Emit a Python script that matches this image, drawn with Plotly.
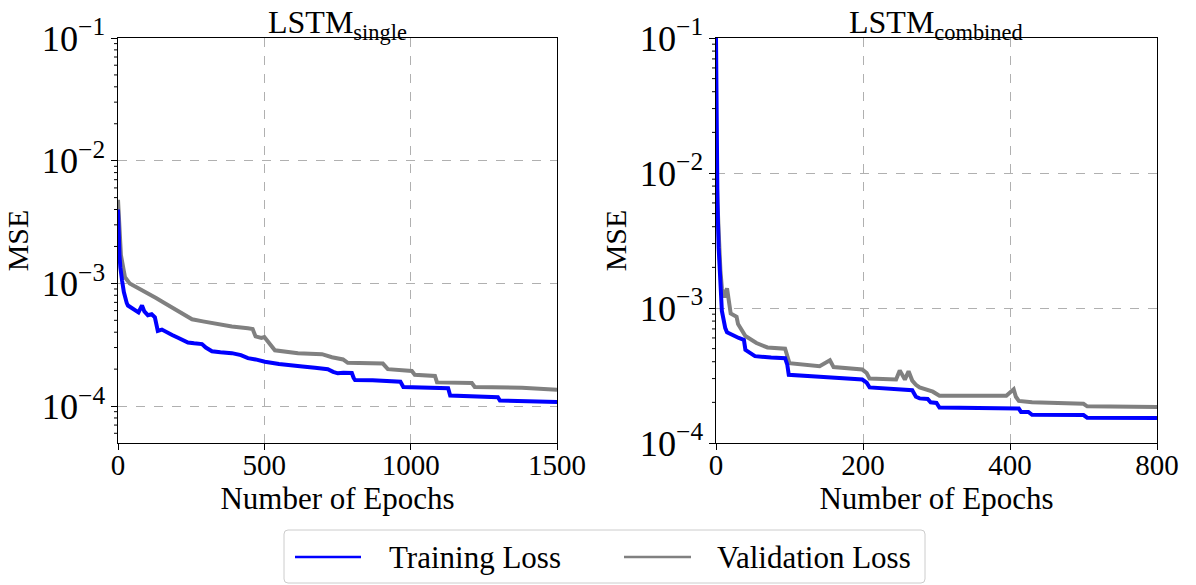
import math
import plotly.graph_objects as go

# ---- LSTM single: training / validation MSE per epoch ----
single_train_epochs = [0, 1, 3, 5, 8, 10, 14, 20, 24, 30, 34, 45, 58, 70, 82, 90, 102, 115, 126,
                       132, 136, 150, 171, 185, 205, 220, 239, 260, 287, 300, 321, 350, 389, 420,
                       444, 470, 502, 550, 594, 630, 673, 700, 717, 735, 751, 770, 799, 805, 810,
                       870, 930, 965, 975, 1050, 1128, 1135, 1200, 1298, 1305, 1400, 1500]
single_train_mse = [4.0e-3, 3.0e-3, 2.0e-3, 1.7e-3, 1.35e-3, 1.2e-3, 1.05e-3, 8.5e-4, 7.6e-4,
                    6.9e-4, 6.6e-4, 6.3e-4, 6.0e-4, 5.8e-4, 6.6e-4, 5.9e-4, 5.5e-4, 5.6e-4, 5.3e-4,
                    4.6e-4, 4.1e-4, 4.2e-4, 4.0e-4, 3.8e-4, 3.6e-4, 3.45e-4, 3.3e-4, 3.25e-4,
                    3.2e-4, 3.0e-4, 2.8e-4, 2.75e-4, 2.7e-4, 2.6e-4, 2.46e-4, 2.4e-4, 2.3e-4,
                    2.2e-4, 2.13e-4, 2.1e-4, 2.05e-4, 2.02e-4, 2.0e-4, 1.9e-4, 1.85e-4, 1.87e-4,
                    1.86e-4, 1.7e-4, 1.63e-4, 1.62e-4, 1.6e-4, 1.58e-4, 1.43e-4, 1.42e-4, 1.40e-4,
                    1.22e-4, 1.2e-4, 1.18e-4, 1.11e-4, 1.1e-4, 1.08e-4]

single_val_epochs = [0, 2, 5, 10, 20, 24, 40, 58, 80, 102, 130, 160, 190, 218, 240, 253, 290,
                     331, 389, 444, 460, 470, 490, 500, 520, 536, 615, 697, 731, 769, 785, 905,
                     922, 1004, 1014, 1083, 1090, 1209, 1219, 1380, 1500]
single_val_mse = [4.8e-3, 3.5e-3, 2.7e-3, 1.7e-3, 1.26e-3, 1.12e-3, 1.0e-3, 9.5e-4, 8.9e-4,
                  8.4e-4, 7.6e-4, 6.9e-4, 6.3e-4, 5.75e-4, 5.4e-4, 5.1e-4, 4.9e-4, 4.7e-4,
                  4.45e-4, 4.3e-4, 4.25e-4, 3.7e-4, 3.6e-4, 3.65e-4, 3.2e-4, 2.85e-4, 2.7e-4,
                  2.65e-4, 2.5e-4, 2.4e-4, 2.25e-4, 2.22e-4, 2.0e-4, 1.93e-4, 1.8e-4, 1.76e-4,
                  1.56e-4, 1.54e-4, 1.43e-4, 1.41e-4, 1.36e-4]

# ---- LSTM combined: training / validation MSE per epoch ----
combined_train_epochs = [0, 1, 2, 3.6, 5.8, 8, 12.6, 15, 31, 38, 40, 53, 75, 94, 97, 99, 141,
                         199, 205, 209, 267, 272, 277, 288, 292, 300, 304, 395, 412, 415, 425,
                         430, 500, 505, 600]
combined_train_mse = [1.0e-1, 2.0e-2, 6.0e-3, 2.8e-3, 1.35e-3, 9.5e-4, 7.1e-4, 6.6e-4, 6.0e-4,
                      5.8e-4, 4.9e-4, 4.4e-4, 4.3e-4, 4.25e-4, 3.8e-4, 3.2e-4, 3.1e-4, 2.95e-4,
                      2.8e-4, 2.58e-4, 2.46e-4, 2.2e-4, 2.14e-4, 2.12e-4, 2.0e-4, 1.98e-4,
                      1.83e-4, 1.83e-4, 1.8e-4, 1.7e-4, 1.7e-4, 1.62e-4, 1.61e-4, 1.54e-4, 1.53e-4]

combined_val_epochs = [0, 1, 3.6, 6, 8, 12, 15, 20, 28, 30, 40, 55, 70, 94, 97, 100, 141, 155,
                       160, 199, 205, 209, 245, 250, 257, 262, 267, 272, 277, 295, 304, 395, 405,
                       408, 412, 430, 500, 505, 600]
combined_val_mse = [1.2e-2, 8.0e-3, 3.7e-3, 1.9e-3, 1.4e-3, 1.2e-3, 1.4e-3, 9.1e-4, 8.6e-4,
                    7.6e-4, 6.2e-4, 5.5e-4, 5.1e-4, 5.0e-4, 4.5e-4, 3.9e-4, 3.7e-4, 4.1e-4,
                    3.65e-4, 3.5e-4, 3.3e-4, 3.0e-4, 2.95e-4, 3.45e-4, 2.95e-4, 3.4e-4, 2.9e-4,
                    2.7e-4, 2.58e-4, 2.4e-4, 2.24e-4, 2.24e-4, 2.5e-4, 2.2e-4, 2.05e-4, 2.0e-4,
                    1.95e-4, 1.87e-4, 1.85e-4]

# tick labels of the epoch axes
single_xtick_vals = [0, 500, 1000, 1500]
combined_xtick_vals = [0, 200, 400, 600]
combined_xtick_text = ["0", "200", "400", "800"]

panel_titles = ["LSTM<sub>single</sub>", "LSTM<sub>combined</sub>"]
series_names = ["Training Loss", "Validation Loss"]

TRAIN_COLOR = "#0000ff"
VAL_COLOR = "#808080"
FONT = "Liberation Serif"
W, H = 1196, 585
LW = 4

single_yrange = [-4.301, -1]
combined_yrange = [-4, -1]

fig = go.Figure()

# validation first so that the training curve sits on top
fig.add_trace(go.Scatter(x=single_val_epochs, y=single_val_mse, mode="lines",
                         line=dict(color=VAL_COLOR, width=LW), name=series_names[1],
                         xaxis="x", yaxis="y"))
fig.add_trace(go.Scatter(x=single_train_epochs, y=single_train_mse, mode="lines",
                         line=dict(color=TRAIN_COLOR, width=LW), name=series_names[0],
                         xaxis="x", yaxis="y"))
fig.add_trace(go.Scatter(x=combined_val_epochs, y=combined_val_mse, mode="lines",
                         line=dict(color=VAL_COLOR, width=LW), name=series_names[1],
                         xaxis="x2", yaxis="y2"))
fig.add_trace(go.Scatter(x=combined_train_epochs, y=combined_train_mse, mode="lines",
                         line=dict(color=TRAIN_COLOR, width=LW), name=series_names[0],
                         xaxis="x2", yaxis="y2"))

tick_font = dict(family=FONT, size=29, color="black")
title_font = dict(family=FONT, size=31, color="black")

common_x = dict(showline=True, linecolor="black", linewidth=1.2, mirror=True,
                ticks="outside", ticklen=6, tickwidth=1.2, tickcolor="black",
                showgrid=True, gridcolor="#b0b0b0", gridwidth=1, griddash="dash",
                zeroline=False, tickfont=tick_font, automargin=False,
                ticklabelstandoff=-10,
                title=dict(text="Number of Epochs", font=title_font, standoff=0))
common_y = dict(type="log", showline=True, linecolor="black", linewidth=1.2, mirror=True,
                ticks="outside", ticklen=6, tickwidth=1.2, tickcolor="black",
                tickmode="linear", dtick=1, exponentformat="power",
                showgrid=True, gridcolor="#b0b0b0", gridwidth=1, griddash="dash",
                zeroline=False, tickfont=tick_font, automargin=False,
                title=dict(text="MSE", font=dict(family=FONT, size=30, color="black"),
                           standoff=4))

ydom = [1 - 443 / H, 1 - 38 / H]
X1_PX = (118, 557)
X2_PX = (716, 1157)
x1dom = [X1_PX[0] / W, X1_PX[1] / W]
x2dom = [X2_PX[0] / W, X2_PX[1] / W]


def minor_log_ticks(spine_px, yrange, length=4):
    """Short outside ticks at 2..9 x 10^e along the left spine of a log axis."""
    out = []
    lo, hi = yrange
    for e in range(int(lo) - 1, int(hi) + 1):
        for k in range(2, 10):
            lv = math.log10(k * 10.0 ** e)
            if lo <= lv <= hi:
                yp = ydom[0] + (lv - lo) / (hi - lo) * (ydom[1] - ydom[0])
                out.append(dict(type="line", xref="paper", yref="paper",
                                x0=(spine_px - length) / W, x1=spine_px / W, y0=yp, y1=yp,
                                line=dict(color="black", width=1)))
    return out


shapes = []
shapes += minor_log_ticks(X1_PX[0], single_yrange)
shapes += minor_log_ticks(X2_PX[0], combined_yrange)
shapes += [
    # legend frame with slightly rounded corners
    dict(type="path", xref="paper", yref="paper",
         path=("M {a},{b} L {c},{b} Q {d},{b} {d},{e} L {d},{f} Q {d},{g} {c},{g} "
               "L {a},{g} Q {h},{g} {h},{f} L {h},{e} Q {h},{b} {a},{b} Z").format(
             a=288 / W, c=921 / W, d=925 / W, h=284 / W,
             b=1 - 530 / H, e=1 - 534 / H, f=1 - 579 / H, g=1 - 583 / H),
         line=dict(color="#cccccc", width=1), fillcolor="white", layer="below"),
    # legend line samples
    dict(type="line", xref="paper", yref="paper", x0=295 / W, x1=361 / W,
         y0=1 - 557 / H, y1=1 - 557 / H, line=dict(color=TRAIN_COLOR, width=2.5)),
    dict(type="line", xref="paper", yref="paper", x0=624 / W, x1=691 / W,
         y0=1 - 557 / H, y1=1 - 557 / H, line=dict(color=VAL_COLOR, width=2.5)),
]

fig.update_layout(
    width=W, height=H,
    margin=dict(l=0, r=0, t=0, b=0, autoexpand=False),
    paper_bgcolor="white", plot_bgcolor="white",
    font=dict(family=FONT, color="black"),
    showlegend=False,
    xaxis=dict(common_x, domain=x1dom, range=[0, 1500],
               tickmode="array", tickvals=single_xtick_vals, anchor="y"),
    yaxis=dict(common_y, domain=ydom, range=single_yrange, anchor="x"),
    xaxis2=dict(common_x, domain=x2dom, range=[0, 600],
                tickmode="array", tickvals=combined_xtick_vals,
                ticktext=combined_xtick_text, anchor="y2"),
    yaxis2=dict(common_y, domain=ydom, range=combined_yrange, anchor="x2"),
    shapes=shapes,
    annotations=[
        dict(text=panel_titles[0], x=sum(x1dom) / 2, y=1 - 2 / H, xref="paper",
             yref="paper", xanchor="center", yanchor="top", showarrow=False,
             font=dict(family=FONT, size=32, color="black")),
        dict(text=panel_titles[1], x=sum(x2dom) / 2, y=1 - 2 / H, xref="paper",
             yref="paper", xanchor="center", yanchor="top", showarrow=False,
             font=dict(family=FONT, size=32, color="black")),
        # legend labels
        dict(text=series_names[0], x=387 / W, y=1 - 557 / H, xref="paper", yref="paper",
             xanchor="left", yanchor="middle", showarrow=False,
             font=dict(family=FONT, size=31, color="black")),
        dict(text=series_names[1], x=715 / W, y=1 - 557 / H, xref="paper", yref="paper",
             xanchor="left", yanchor="middle", showarrow=False,
             font=dict(family=FONT, size=31, color="black")),
    ],
)

fig.write_html("out.html")
